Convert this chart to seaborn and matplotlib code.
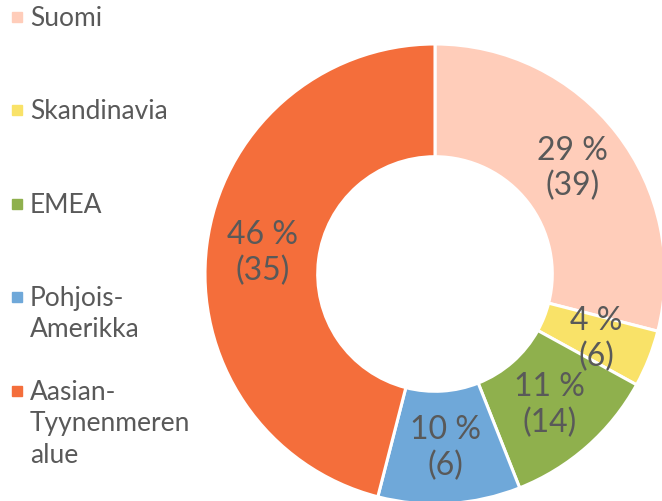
import matplotlib
matplotlib.use("Agg")
import matplotlib.pyplot as plt
import seaborn as sns
import numpy as np

# data
alueet = ["Suomi", "Skandinavia", "EMEA", "Pohjois-\nAmerikka", "Aasian-\nTyynenmeren\nalue"]
osuudet = [29, 4, 11, 10, 46]          # %
lukumaarat = [39, 6, 14, 6, 35]        # suluissa
varit = ["#FFCDBA", "#F9E268", "#8FB04D", "#6FA8D9", "#F46E3B"]

sns.set_theme(style="white")
plt.rcParams["font.family"] = ["Lato", "DejaVu Sans"]
tekstivari = "#595959"

fig = plt.figure(figsize=(6.62, 5.02), dpi=100)

# donitsi: keskipiste (435, 275) px, säde 230 px
ax = fig.add_axes([205 / 662, (502 - 275 - 230) / 502, 460 / 662, 460 / 502])
wedges, _ = ax.pie(osuudet, colors=varit, startangle=90, counterclock=False,
                   radius=1, wedgeprops=dict(width=0.49, edgecolor="white", linewidth=2.2))
ax.set_xlim(-1, 1)
ax.set_ylim(-1, 1)
ax.set_aspect("equal")
ax.axis("off")

for w, p, n in zip(wedges, osuudet, lukumaarat):
    kulma = np.deg2rad((w.theta1 + w.theta2) / 2)
    r = 0.755
    ax.text(r * np.cos(kulma), r * np.sin(kulma), f"{p} %\n({n})", ha="center", va="center",
            fontsize=23, color=tekstivari, linespacing=1.22)

# selite käsin
y_alku = [18, 111, 205, 298, 392]
for nimi, vari, y in zip(alueet, varit, y_alku):
    fig.patches.append(plt.Rectangle((12 / 662, 1 - (y + 5) / 502), 10 / 662, 10 / 502,
                                     transform=fig.transFigure, color=vari, figure=fig))
    fig.text(30 / 662, 1 - (y - 12) / 502, nimi, ha="left", va="top", fontsize=19,
             color=tekstivari, linespacing=1.32)

fig.savefig("out.png", dpi=100)
